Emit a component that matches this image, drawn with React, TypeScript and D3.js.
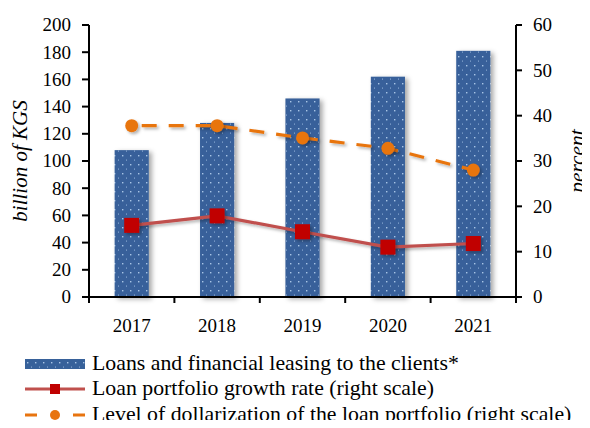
import * as d3 from "d3";

const years = ["2017", "2018", "2019", "2020", "2021"];
const loans = [108, 128, 146, 162, 181];
const growthRate = [15.8, 17.9, 14.4, 11.0, 11.8];
const dollarization = [37.8, 37.8, 35.1, 32.8, 28.0];
const leftTicks = [0, 20, 40, 60, 80, 100, 120, 140, 160, 180, 200];
const rightTicks = [0, 10, 20, 30, 40, 50, 60];
const legendLabels = [
  "Loans and financial leasing to the clients*",
  "Loan portfolio growth rate (right scale)",
  "Level of dollarization of the loan portfolio (right scale)",
];

const width = 590;
const height = 428;
const marginLeft = 89;
const marginRight = 74;
const marginTop = 25;
const plotBottom = 297;
const font = "Liberation Serif";

const x = d3.scaleBand().domain(years).range([marginLeft, width - marginRight]);
const yL = d3.scaleLinear().domain([0, 200]).range([plotBottom, marginTop]);
const yR = d3.scaleLinear().domain([0, 60]).range([plotBottom, marginTop]);
const barW = x.bandwidth() * 0.4;
const cx = (i: number) => x(years[i])! + x.bandwidth() / 2;
const lineR = d3.line<number>().x((_, i) => cx(i)).y(d => yR(d));

export default function App() {
  const right = width - marginRight;
  const bounds = [...years.map(y => x(y)!), right];
  const rowBase = [370, 395, 421];
  const midY = (marginTop + plotBottom) / 2;
  return (
    <svg width={width} height={height} style={{ display: "block", margin: -8 }} fontFamily={font} fontSize={19}>
      <defs>
        <pattern id="dots" patternUnits="userSpaceOnUse" width={8} height={9}>
          <rect width={8} height={9} fill="#37619A" />
          <rect x={2} y={2} width={1.4} height={1.4} fill="#a9c4e6" />
          <rect x={6} y={6.5} width={1} height={1.2} fill="#8aa8d2" />
        </pattern>
        <filter id="shadow" x="-40%" y="-30%" width="180%" height="160%">
          <feDropShadow dx={3} dy={2} stdDeviation={2.5} floodColor="#000" floodOpacity={0.35} />
        </filter>
        <filter id="shadowS" x="-40%" y="-40%" width="180%" height="180%">
          <feDropShadow dx={2} dy={2} stdDeviation={1.5} floodColor="#000" floodOpacity={0.3} />
        </filter>
      </defs>

      {loans.map((d, i) => (
        <rect
          key={years[i]}
          x={x(years[i])! + (x.bandwidth() - barW) / 2}
          y={yL(d)}
          width={barW}
          height={plotBottom - yL(d)}
          fill="url(#dots)"
          filter="url(#shadow)"
        />
      ))}

      <path d={lineR(dollarization)!} fill="none" stroke="#E8740F" strokeWidth={3.2}
        strokeDasharray="15,12" strokeDashoffset={-10} filter="url(#shadowS)" />
      {dollarization.map((d, i) => (
        <circle key={i} cx={cx(i)} cy={yR(d)} r={6.5} fill="#E8740F" filter="url(#shadowS)" />
      ))}

      <path d={lineR(growthRate)!} fill="none" stroke="#C0504D" strokeWidth={3.2} filter="url(#shadowS)" />
      {growthRate.map((d, i) => (
        <rect key={i} x={cx(i) - 7.5} y={yR(d) - 7.5} width={15} height={15} fill="#C00000" filter="url(#shadowS)" />
      ))}

      {/* left axis */}
      <line x1={marginLeft} x2={marginLeft} y1={marginTop} y2={plotBottom} stroke="#000" strokeWidth={2} />
      {leftTicks.map(t => (
        <g key={t}>
          <line x1={marginLeft - 7} x2={marginLeft} y1={yL(t)} y2={yL(t)} stroke="#000" strokeWidth={2} />
          <text x={marginLeft - 18} y={yL(t)} dy="0.34em" textAnchor="end">{t}</text>
        </g>
      ))}

      {/* right axis */}
      <line x1={right} x2={right} y1={marginTop} y2={plotBottom} stroke="#000" strokeWidth={2} />
      {rightTicks.map(t => (
        <g key={t}>
          <line x1={right} x2={right + 6} y1={yR(t)} y2={yR(t)} stroke="#000" strokeWidth={2} />
          <text x={right + 17} y={yR(t)} dy="0.34em">{t}</text>
        </g>
      ))}

      {/* x axis */}
      <line x1={marginLeft} x2={right} y1={plotBottom} y2={plotBottom} stroke="#000" strokeWidth={2} />
      {bounds.map(b => (
        <line key={b} x1={b} x2={b} y1={plotBottom} y2={plotBottom + 6} stroke="#000" strokeWidth={2} />
      ))}
      {years.map(y => (
        <text key={y} x={x(y)! + x.bandwidth() / 2} y={plotBottom + 35} textAnchor="middle">{y}</text>
      ))}

      <text transform={`translate(27,${midY}) rotate(-90)`} textAnchor="middle" fontStyle="italic" fontSize={21}>
        billion of KGS
      </text>
      <text transform={`translate(584,${midY}) rotate(-90)`} textAnchor="middle" fontStyle="italic" fontSize={21.5}>
        percent
      </text>

      {/* legend */}
      <g transform="translate(25,0)">
        <rect x={0} y={rowBase[0] - 11} width={60} height={10} fill="url(#dots)" />
        <line x1={0} x2={60} y1={rowBase[1] - 6} y2={rowBase[1] - 6} stroke="#C0504D" strokeWidth={3.2} />
        <rect x={25} y={rowBase[1] - 11} width={10} height={10} fill="#C00000" />
        <line x1={0} x2={60} y1={rowBase[2] - 6} y2={rowBase[2] - 6} stroke="#E8740F" strokeWidth={3.2} strokeDasharray="12,36" />
        <circle cx={30} cy={rowBase[2] - 6} r={5} fill="#E8740F" />
        {legendLabels.map((l, i) => (
          <text key={l} x={67} y={rowBase[i]} fontSize={21.8}>{l}</text>
        ))}
      </g>
    </svg>
  );
}
